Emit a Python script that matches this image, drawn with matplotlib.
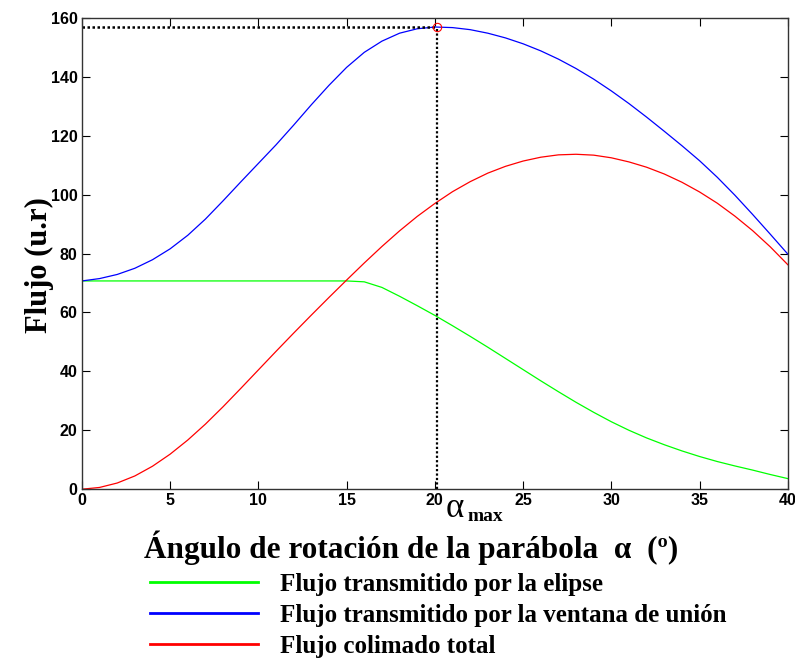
import matplotlib
matplotlib.use('Agg')
import matplotlib.pyplot as plt
import matplotlib.transforms as mtransforms
import numpy as np

# angle of rotation of the parabola (degrees)
alpha = np.arange(0, 41)

# flux through the ellipse (green)
flujo_elipse = [70.7, 70.7, 70.7, 70.7, 70.7, 70.7, 70.7, 70.7, 70.7, 70.7,
                70.7, 70.7, 70.7, 70.7, 70.7, 70.7, 70.4, 68.5, 65.5, 62.3,
                59.0, 55.5, 51.9, 48.2, 44.4, 40.6, 36.8, 33.1, 29.5, 26.1,
                22.9, 20.0, 17.4, 15.1, 13.0, 11.1, 9.4, 7.9, 6.5, 5.0, 3.6]

# flux through the joining window (blue)
flujo_ventana = [70.7, 71.5, 72.9, 75.0, 77.9, 81.6, 86.2, 91.7, 97.9, 104.3,
                 110.6, 116.9, 123.6, 130.5, 137.1, 143.2, 148.3, 152.1, 154.8, 156.3,
                 156.9, 156.7, 156.0, 154.8, 153.2, 151.2, 148.8, 146.0, 142.8, 139.2,
                 135.2, 130.9, 126.3, 121.5, 116.6, 111.5, 105.9, 99.8, 93.3, 86.6, 79.8]

# total collimated flux (red)
flujo_total = [0.0, 0.6, 2.1, 4.5, 7.8, 11.9, 16.7, 22.1, 28.0, 34.2,
               40.5, 46.8, 53.0, 59.1, 65.1, 71.0, 76.8, 82.4, 87.7, 92.6,
               97.0, 101.0, 104.4, 107.3, 109.6, 111.4, 112.7, 113.5, 113.7, 113.4,
               112.5, 111.1, 109.3, 107.0, 104.2, 100.9, 97.1, 92.7, 87.8, 82.3, 76.2]

# maximum of the window flux
alpha_max = 20.1
flujo_max = 156.9

labels = ['Flujo transmitido por la elipse',
          'Flujo transmitido por la ventana de unión',
          'Flujo colimado total']

fig = plt.figure(figsize=(7.95, 6.62), dpi=100)
ax = fig.add_axes([0.103, 0.261, 0.888, 0.712])

l1, = ax.plot(alpha, flujo_elipse, color='#00ff00', lw=0.9)
l2, = ax.plot(alpha, flujo_ventana, color='#0000ff', lw=0.9)
l3, = ax.plot(alpha, flujo_total, color='#ff0000', lw=0.9)

# dotted guide lines to the maximum
ax.plot([0, alpha_max], [flujo_max, flujo_max], color='black', ls=(0, (1, 1)), lw=1.8)
ax.plot([alpha_max, alpha_max], [0, flujo_max], color='black', ls=(0, (1, 1)), lw=1.6)
ax.plot([alpha_max], [flujo_max], marker='o', ms=6, mfc='none', mec='red', mew=0.8)

ax.set_xlim(0, 40)
ax.set_ylim(0, 160)
ax.set_xticks(np.arange(0, 41, 5))
ax.set_yticks(np.arange(0, 161, 20))
ax.tick_params(direction='in', top=True, right=True, length=6, width=0.8, pad=3)
for lab in ax.get_xticklabels() + ax.get_yticklabels():
    lab.set_fontfamily('Liberation Sans')
    lab.set_fontweight('bold')
    lab.set_fontsize(11.5)
for sp in ax.spines.values():
    sp.set_linewidth(1.0)
    sp.set_color('#333333')

# alpha_max next to the 20 tick
trans = mtransforms.blended_transform_factory(ax.transData, ax.transAxes)
ax.text(20.6, -0.005, 'α', transform=trans, ha='left', va='top',
        fontsize=25, family='Liberation Serif')
ax.text(21.85, -0.04, 'max', transform=trans, ha='left', va='top',
        fontsize=14, family='Liberation Serif', fontweight='bold')

ax.set_ylabel('Flujo (u.r)', fontsize=22, family='Liberation Serif',
              fontweight='bold', labelpad=-2.5)
ax.yaxis.label.set_y(0.476)
ax.set_xlabel('Ángulo de rotación de la parábola  α  (º)', fontsize=22.5,
              family='Liberation Serif', fontweight='bold', labelpad=16)
ax.xaxis.label.set_x(0.467)

fig.legend([l1, l2, l3], labels, loc='upper left', bbox_to_anchor=(0.189, 0.1345),
           frameon=False, borderpad=0, borderaxespad=0, handlelength=4.3,
           handletextpad=0.9, labelspacing=0.32,
           prop={'family': 'Liberation Serif', 'weight': 'bold', 'size': 18})
for line in fig.legends[0].get_lines():
    line.set_linewidth(2)

fig.savefig('out.png', dpi=100)
